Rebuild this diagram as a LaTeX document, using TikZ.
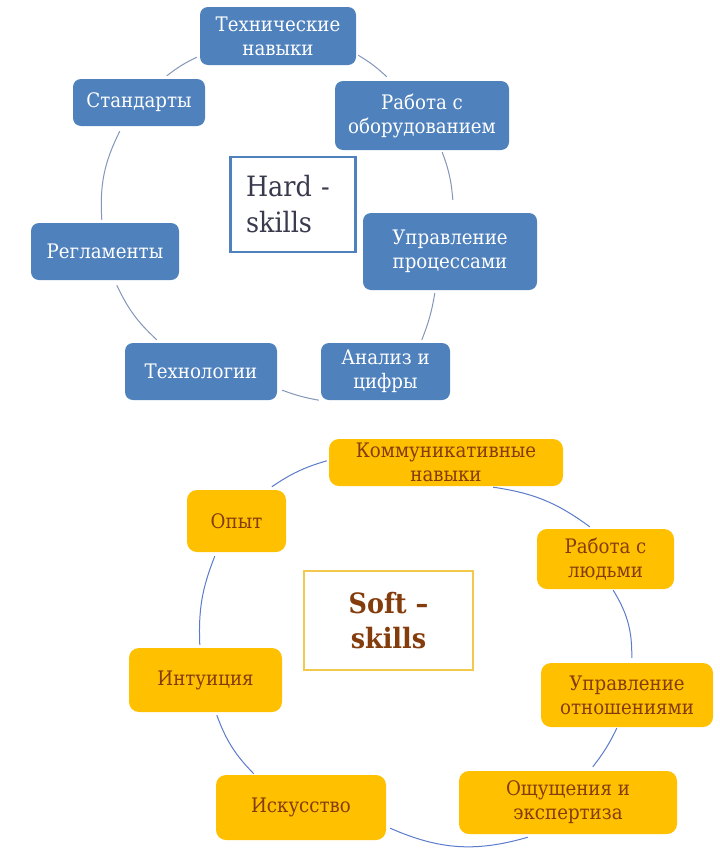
\documentclass[tikz,border=0pt]{standalone}
\usepackage{fontspec}
\setmainfont{DejaVu Serif}[FakeStretch=0.91]
\definecolor{hblue}{HTML}{4F81BD}
\definecolor{harccol}{HTML}{8497B8}
\definecolor{sarccol}{HTML}{5B7BCB}
\definecolor{sgold}{HTML}{FFC000}
\definecolor{sbrown}{HTML}{843C0C}
\definecolor{hardtext}{HTML}{3A3A4E}
\definecolor{softline}{HTML}{F2C94C}
\begin{document}
\begin{tikzpicture}[x=1pt,y=1pt]
\tikzset{
  hnode/.style={fill=hblue, rounded corners=8pt, text=white, font=\rmfamily\fontsize{20}{24}\selectfont, align=center, inner sep=0pt},
  snode/.style={fill=sgold, rounded corners=10pt, text=sbrown, font=\rmfamily\fontsize{20}{24}\selectfont, align=center, inner sep=0pt},
  harc/.style={draw=harccol, line width=1pt},
  sarc/.style={draw=sarccol, line width=1pt},
}
\fill[white] (0,0) rectangle (720,-854);
\useasboundingbox (0,0) rectangle (720,-854);

% Hard skills cycle
\node[hnode, minimum width=156pt, minimum height=58pt] (tech) at (278,-36) {Технические\\навыки};
\node[hnode, minimum width=174pt, minimum height=69pt] (equip) at (422,-115.5) {Работа с\\оборудованием};
\node[hnode, minimum width=174pt, minimum height=77pt] (proc) at (450,-251.5) {Управление\\процессами};
\node[hnode, minimum width=129pt, minimum height=57pt] (anal) at (385.5,-371.5) {Анализ и\\цифры};
\node[hnode, minimum width=152pt, minimum height=57pt] (techn) at (201,-371.5) {Технологии};
\node[hnode, minimum width=148pt, minimum height=57pt] (regl) at (105,-251.5) {Регламенты};
\node[hnode, minimum width=132pt, minimum height=47pt] (stand) at (139,-102.5) {Стандарты};
\node[draw=hblue, line width=2.5pt, fill=white, minimum width=125pt, minimum height=95pt,
      text width=94pt, align=left, inner sep=0pt, font=\rmfamily\fontsize{28}{36}\selectfont, text=hardtext] (hard) at (293,-204.5) {Hard -\\skills};

% arcs (end points on node borders, with small gaps)
\draw[harc] ([xshift=2pt,yshift=10pt]tech.south east) to[bend left=6] ([xshift=52pt,yshift=4pt]equip.north west);
\draw[harc] ([xshift=-67pt,yshift=-2pt]equip.south east) to[bend left=8] ([xshift=90pt,yshift=13pt]proc.north west);
\draw[harc] ([xshift=72pt,yshift=-3pt]proc.south west) to[bend left=6] ([xshift=101pt,yshift=3pt]anal.north west);
\draw[harc] ([xshift=-2pt,yshift=0pt]anal.south west) to[bend left=5] ([xshift=5pt,yshift=10pt]techn.south east);
\draw[harc] ([xshift=32pt,yshift=3pt]techn.north west) to[bend left=11] ([xshift=86pt,yshift=-5pt]regl.south west);
\draw[harc] ([xshift=71pt,yshift=3pt]regl.north west) to[bend left=15] ([xshift=47pt,yshift=-5pt]stand.south west);
\draw[harc] ([xshift=94pt,yshift=3pt]stand.north west) to[bend left=6] ([xshift=-3pt,yshift=8pt]tech.south west);

% Soft skills cycle
\node[snode, minimum width=234pt, minimum height=47pt] (comm) at (446,-462.5) {Коммуникативные\\навыки};
\node[snode, minimum width=137pt, minimum height=60pt] (people) at (605.5,-559) {Работа с\\людьми};
\node[snode, minimum width=172pt, minimum height=64pt] (rel) at (627,-695) {Управление\\отношениями};
\node[snode, minimum width=218pt, minimum height=63pt] (sens) at (568,-802.5) {Ощущения и\\экспертиза};
\node[snode, minimum width=170pt, minimum height=65pt] (art) at (301,-807.5) {Искусство};
\node[snode, minimum width=153pt, minimum height=64pt] (intu) at (205.5,-680) {Интуиция};
\node[snode, minimum width=99pt, minimum height=62pt] (exp) at (236.5,-521) {Опыт};
\node[draw=softline, line width=1.2pt, fill=white, minimum width=169pt, minimum height=99pt,
      align=center, inner sep=0pt, font=\rmfamily\bfseries\fontsize{28}{35}\selectfont, text=sbrown] (soft) at (388.5,-620.5) {Soft –\\skills};

\draw[sarc] ([xshift=-70pt,yshift=-1pt]comm.south east) to[bend left=14] ([xshift=53pt,yshift=2pt]people.north west);
\draw[sarc] ([xshift=-61pt,yshift=-1pt]people.south east) to[bend left=16] ([xshift=91pt,yshift=5pt]rel.north west);
\draw[sarc] ([xshift=76pt,yshift=-1pt]rel.south west) to[bend left=6] ([xshift=134pt,yshift=4pt]sens.north west);
\draw[sarc] ([xshift=69pt,yshift=-3pt]sens.south west) to[bend left=20] ([xshift=4pt,yshift=12pt]art.south east);
\draw[sarc] ([xshift=38pt,yshift=1pt]art.north west) to[bend left=12] ([xshift=88pt,yshift=-3pt]intu.south west);
\draw[sarc] ([xshift=71pt,yshift=3pt]intu.north west) to[bend left=12] ([xshift=28pt,yshift=-4pt]exp.south west);
\draw[sarc] ([xshift=85pt,yshift=3pt]exp.north west) to[bend left=9] ([xshift=-2pt,yshift=-22pt]comm.north west);
\end{tikzpicture}
\end{document}
